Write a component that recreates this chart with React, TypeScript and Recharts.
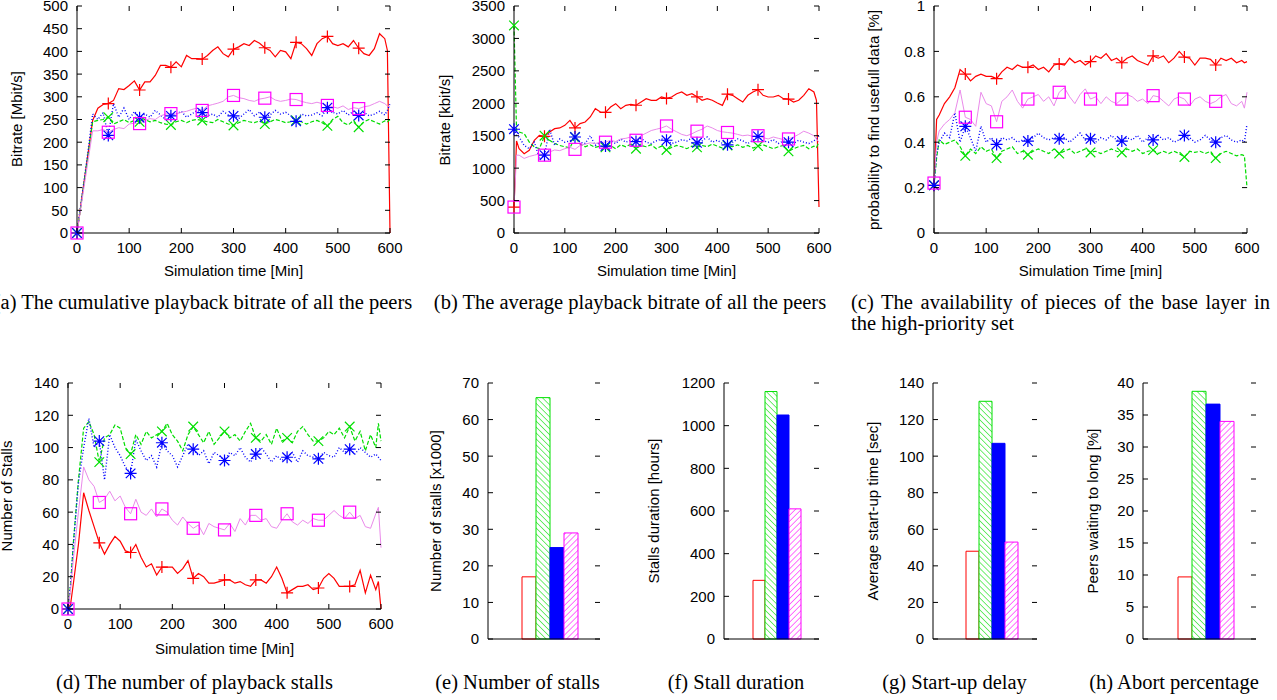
import { LineChart, Line, BarChart, Bar, XAxis, YAxis } from "recharts";

// sample times [min]
const TIMES = [
  0, 5, 10, 20, 30, 40, 50,
  60, 70, 80, 90, 100, 110,
  120, 130, 140, 150, 160, 170,
  180, 190, 200, 210, 220, 230,
  240, 250, 260, 270, 280, 290,
  300, 310, 320, 330, 340, 350,
  360, 370, 380, 390, 400, 410,
  420, 430, 440, 450, 460, 470,
  480, 490, 500, 510, 520, 530,
  540, 550, 560, 570, 580, 590,
  595, 600,
];
const X_TICKS = [0, 100, 200, 300, 400, 500, 600];

// (a) cumulative bitrate [Mbit/s]
const cumRed = [
  0, 41, 83, 165, 248, 275, 283,
  285, 292, 318, 316, 325, 335,
  315, 333, 333, 347, 369, 369,
  365, 377, 366, 391, 384, 384,
  383, 391, 402, 410, 395, 388,
  405, 410, 417, 413, 424, 418,
  408, 402, 388, 402, 399, 384,
  420, 417, 406, 391, 417, 428,
  433, 417, 413, 417, 410, 424,
  407, 395, 391, 406, 439, 428,
  402, 0,
];
const cumGreen = [
  0, 41, 82, 163, 245, 248, 250,
  255, 240, 245, 250, 243, 248,
  245, 250, 245, 248, 243, 240,
  238, 245, 248, 243, 248, 250,
  248, 245, 243, 250, 245, 240,
  237, 243, 248, 245, 243, 247,
  240, 245, 250, 247, 243, 245,
  248, 245, 240, 245, 248, 243,
  236, 250, 257, 243, 238, 248,
  233, 245, 250, 245, 240, 247,
  245, 250,
];
const cumBlue = [
  0, 43, 85, 170, 262, 250, 265,
  215, 285, 255, 275, 250, 268,
  254, 262, 255, 270, 260, 250,
  258, 262, 268, 255, 262, 270,
  265, 258, 262, 255, 268, 260,
  258, 252, 262, 272, 258, 266,
  255, 260, 270, 262, 266, 258,
  246, 262, 258, 260, 265, 258,
  276, 266, 262, 270, 260, 268,
  259, 266, 258, 262, 268, 260,
  270, 285,
];
const cumMagenta = [
  0, 38, 75, 150, 225, 225, 228,
  222, 228, 232, 230, 240, 242,
  241, 248, 252, 250, 258, 262,
  263, 262, 266, 268, 272, 275,
  270, 280, 283, 286, 290, 300,
  303, 298, 296, 292, 290, 295,
  297, 300, 293, 290, 292, 295,
  294, 290, 287, 285, 288, 285,
  281, 278, 275, 280, 272, 276,
  274, 278, 280, 285, 290, 285,
  280, 278,
];

// (b) average bitrate [kbit/s]
const avgRed = [
  400, 1420, 1300, 1223, 1275, 1429, 1506,
  1490, 1557, 1609, 1620, 1660, 1737,
  1620, 1686, 1711, 1789, 1917, 1866,
  1860, 1943, 1994, 1917, 1968, 1984,
  1970, 2020, 2071, 2046, 2046, 2097,
  2075, 2097, 2148, 2174, 2123, 2148,
  2100, 2046, 2071, 2046, 2004, 1968,
  2140, 2123, 2071, 2020, 2123, 2174,
  2210, 2123, 2097, 2097, 2123, 2071,
  2065, 2020, 2046, 2123, 2225, 2174,
  2046, 400,
];
const avgGreen = [
  3200, 1580, 1557, 1532, 1403, 1326, 1300,
  1500, 1429, 1380, 1350, 1330, 1310,
  1480, 1370, 1330, 1360, 1320, 1340,
  1320, 1350, 1300, 1360, 1330, 1370,
  1300, 1350, 1330, 1360, 1300, 1340,
  1280, 1320, 1350, 1330, 1300, 1340,
  1320, 1350, 1330, 1370, 1340, 1310,
  1350, 1330, 1360, 1320, 1350, 1310,
  1340, 1360, 1330, 1300, 1330, 1350,
  1260, 1300, 1330, 1350, 1300, 1340,
  1320, 1400,
];
const avgBlue = [
  1600, 1500, 1480, 1350, 1300, 1400, 1150,
  1200, 1600, 1350, 1450, 1400, 1420,
  1480, 1400, 1380, 1500, 1350, 1400,
  1340, 1420, 1380, 1450, 1400, 1430,
  1410, 1460, 1400, 1380, 1420, 1450,
  1430, 1380, 1400, 1440, 1420, 1460,
  1390, 1420, 1480, 1400, 1430, 1380,
  1360, 1400, 1450, 1420, 1380, 1430,
  1490, 1420, 1400, 1440, 1380, 1420,
  1400, 1380, 1430, 1400, 1380, 1420,
  1450, 1500,
];
const avgMagenta = [
  400, 1200, 1200, 1150, 1180, 1200, 1220,
  1200, 1250, 1280, 1270, 1300, 1320,
  1290, 1350, 1370, 1390, 1380, 1400,
  1400, 1430, 1410, 1450, 1460, 1480,
  1430, 1500, 1540, 1580, 1600, 1620,
  1650, 1600, 1560, 1520, 1500, 1530,
  1570, 1600, 1650, 1620, 1580, 1560,
  1550, 1540, 1520, 1500, 1510, 1490,
  1500, 1470, 1450, 1480, 1460, 1440,
  1450, 1480, 1520, 1570, 1540, 1500,
  1450, 1400,
];

// (c) probability to find useful data
const probRed = [
  0.21, 0.5, 0.52, 0.57, 0.6, 0.64, 0.72,
  0.7, 0.67, 0.69, 0.7, 0.69, 0.69,
  0.68, 0.71, 0.73, 0.72, 0.74, 0.73,
  0.73, 0.74, 0.72, 0.73, 0.71, 0.74,
  0.745, 0.74, 0.77, 0.75, 0.76, 0.74,
  0.755, 0.78, 0.77, 0.79, 0.76, 0.77,
  0.75, 0.77, 0.78, 0.76, 0.75, 0.74,
  0.78, 0.77, 0.78, 0.75, 0.77, 0.8,
  0.775, 0.77, 0.74, 0.77, 0.77, 0.765,
  0.74, 0.77, 0.76, 0.77, 0.75, 0.76,
  0.75, 0.755,
];
const probGreen = [
  0.21, 0.33, 0.41, 0.39, 0.4, 0.41, 0.38,
  0.34, 0.37, 0.35, 0.38, 0.36, 0.37,
  0.33, 0.36, 0.37, 0.38, 0.35, 0.36,
  0.345, 0.36, 0.37, 0.36, 0.35, 0.37,
  0.35, 0.36, 0.37, 0.35, 0.36, 0.37,
  0.355, 0.36, 0.35, 0.36, 0.37, 0.36,
  0.355, 0.37, 0.36, 0.37, 0.35, 0.36,
  0.365, 0.35, 0.36, 0.35, 0.36, 0.35,
  0.335, 0.36, 0.355, 0.36, 0.35, 0.36,
  0.33, 0.35, 0.36, 0.35, 0.34, 0.345,
  0.34, 0.2,
];
const probBlue = [
  0.21, 0.35, 0.4, 0.44, 0.42, 0.53, 0.4,
  0.47, 0.42, 0.36, 0.47, 0.4, 0.42,
  0.39, 0.42, 0.41, 0.42, 0.4, 0.41,
  0.405, 0.42, 0.44, 0.42, 0.41, 0.42,
  0.415, 0.42, 0.4, 0.42, 0.44, 0.41,
  0.415, 0.4, 0.42, 0.41, 0.43, 0.41,
  0.405, 0.42, 0.41, 0.43, 0.4, 0.42,
  0.41, 0.43, 0.41, 0.42, 0.4, 0.41,
  0.43, 0.42, 0.4, 0.41, 0.43, 0.41,
  0.4, 0.42, 0.43, 0.41, 0.4, 0.41,
  0.4, 0.48,
];
const probMagenta = [
  0.22, 0.4, 0.45, 0.48, 0.5, 0.53, 0.63,
  0.51, 0.5, 0.47, 0.62, 0.57, 0.56,
  0.49, 0.58, 0.6, 0.63, 0.58, 0.55,
  0.59, 0.6, 0.61, 0.58, 0.6, 0.56,
  0.62, 0.64, 0.6, 0.57, 0.61, 0.635,
  0.59, 0.6, 0.57, 0.6, 0.58, 0.57,
  0.59, 0.61, 0.6, 0.58, 0.59, 0.57,
  0.605, 0.6, 0.58, 0.56, 0.59, 0.6,
  0.59, 0.56, 0.59, 0.6, 0.58, 0.57,
  0.58, 0.6, 0.61, 0.57, 0.56, 0.58,
  0.55, 0.62,
];

// (d) number of stalls
const stallRed = [
  0, 3, 15, 40, 72, 61, 51,
  41, 34, 40, 45, 42, 36,
  35, 40, 32, 26, 28, 21,
  26, 26, 26, 22, 25, 30,
  19, 22, 20, 16, 16, 17,
  18, 18, 16, 17, 15, 14,
  18, 18, 16, 20, 26, 19,
  10, 12, 14, 14, 15, 12,
  13, 19, 22, 19, 14, 14,
  14, 15, 24, 10, 21, 12,
  17, 0,
];
const stallGreen = [
  0, 15, 40, 80, 112, 116, 108,
  91, 106, 108, 114, 112, 100,
  96, 108, 102, 110, 106, 108,
  110, 115, 108, 104, 98, 108,
  113, 108, 103, 110, 102, 106,
  110, 106, 108, 104, 110, 115,
  106, 104, 108, 102, 112, 104,
  106, 103, 110, 113, 108, 104,
  104, 106, 110, 108, 112, 106,
  113, 104, 110, 98, 108, 100,
  115, 104,
];
const stallBlue = [
  0, 15, 38, 78, 100, 118, 100,
  104, 80, 108, 100, 95, 88,
  84, 105, 98, 92, 95, 88,
  103, 98, 95, 88, 95, 102,
  99, 95, 98, 90, 97, 95,
  92, 97, 95, 100, 94, 91,
  96, 100, 96, 91, 95, 92,
  94, 97, 91, 98, 95, 94,
  93, 97, 95, 94, 100, 97,
  99, 96, 100, 97, 94, 96,
  94, 92,
];
const stallMagenta = [
  0, 12, 30, 60, 88, 80, 76,
  66, 68, 73, 67, 70, 63,
  59, 68, 60, 58, 62, 57,
  62, 60, 55, 52, 57, 53,
  50, 52, 46, 53, 51, 50,
  49, 53, 48, 56, 52, 58,
  58, 55, 56, 51, 50, 55,
  59, 54, 52, 55, 53, 56,
  55, 55, 58, 61, 58, 56,
  60, 56, 58, 51, 50, 59,
  63, 38,
];

// (e)-(h) totals, one value per scheme
const stallsTotal = [17, 66, 25, 29];
const stallHours = [275, 1160, 1050, 610];
const startupSec = [48, 130, 107, 53];
const abortPct = [9.7, 38.7, 36.7, 34];

const SERIES = [
  { key: "red", color: "#ff0000", dash: undefined, width: 1.2, marker: "plus" },
  { key: "green", color: "#00dd00", dash: "4 2", width: 1.2, marker: "cross" },
  { key: "blue", color: "#0000ff", dash: "1 2", width: 1.4, marker: "star" },
  { key: "magenta", color: "#ea8aea", dash: undefined, width: 1, marker: "square" },
];
const MARK_COLORS: Record<string, string> = {
  red: "#ff0000",
  green: "#00e000",
  blue: "#0000ff",
  magenta: "#ff00ff",
};

const ML = 60;
const MR = 30;
const MT = 10;
const MB = 40;
const SANS = "'Liberation Sans', Arial, sans-serif";
const SERIF = "'Liberation Serif', 'Times New Roman', serif";

function Marker({ kind, cx, cy, color }: { kind: string; cx: number; cy: number; color: string }) {
  const r = 6;
  const q = 4.8;
  const plus = `M${cx - r},${cy}H${cx + r}M${cx},${cy - r}V${cy + r}`;
  const cross = `M${cx - q},${cy - q}L${cx + q},${cy + q}M${cx - q},${cy + q}L${cx + q},${cy - q}`;
  if (kind === "square")
    return <rect x={cx - r} y={cy - r} width={2 * r} height={2 * r} fill="none" stroke={color} strokeWidth={1.2} />;
  const d = kind === "plus" ? plus : kind === "cross" ? cross : plus + cross;
  return <path d={d} fill="none" stroke={color} strokeWidth={1.2} />;
}

const dotFor = (kind: string, color: string) => (p: any) => {
  const t = p.payload.t;
  const show = t % 60 === 0 && t < 600 && p.cx != null && p.cy != null;
  return (
    <g key={`dot-${kind}-${p.index}`}>
      {show ? <Marker kind={kind} cx={p.cx} cy={p.cy} color={color} /> : null}
    </g>
  );
};

// gnuplot style: inward ticks on both sides
const yTick = (w: number) => (p: any) => {
  const y = p.y;
  return (
    <g>
      <line x1={ML} x2={ML + 5} y1={y} y2={y} stroke="#000" />
      <line x1={ML + w - 5} x2={ML + w} y1={y} y2={y} stroke="#000" />
      <text x={ML - 9} y={y} dy="0.36em" textAnchor="end" fontFamily={SANS} fontSize={15} fill="#000">
        {p.payload.value}
      </text>
    </g>
  );
};

const xTick = (h: number) => (p: any) => {
  const x = p.x;
  return (
    <g>
      <line x1={x} x2={x} y1={MT + h - 5} y2={MT + h} stroke="#000" />
      <line x1={x} x2={x} y1={MT} y2={MT + 5} stroke="#000" />
      <text x={x} y={MT + h + 15} dy="0.36em" textAnchor="middle" fontFamily={SANS} fontSize={15} fill="#000">
        {p.payload.value}
      </text>
    </g>
  );
};

type LinePanelProps = {
  left: number;
  top: number;
  w: number;
  h: number;
  yMax: number;
  yTicks: number[];
  lines: number[][];
};

function LinePanel({ left, top, w, h, yMax, yTicks, lines }: LinePanelProps) {
  const data = TIMES.map((t, i) => ({
    t,
    red: lines[0][i],
    green: lines[1][i],
    blue: lines[2][i],
    magenta: lines[3][i],
  }));
  return (
    <div style={{ position: "absolute", left: left - ML, top: top - MT }}>
      <LineChart width={ML + w + MR} height={MT + h + MB} data={data} margin={{ top: MT, right: MR, bottom: 0, left: 0 }}>
        <XAxis
          dataKey="t"
          type="number"
          domain={[0, 600]}
          ticks={X_TICKS}
          interval={0}
          height={MB}
          tickLine={false}
          axisLine={{ stroke: "#000" }}
          tick={xTick(h)}
        />
        <XAxis xAxisId="top" orientation="top" dataKey="t" type="number" domain={[0, 600]} height={0} tick={false} tickLine={false} axisLine={{ stroke: "#000" }} />
        <YAxis type="number" domain={[0, yMax]} ticks={yTicks} interval={0} width={ML} tickLine={false} axisLine={{ stroke: "#000" }} tick={yTick(w)} />
        <YAxis yAxisId="right" orientation="right" type="number" domain={[0, yMax]} width={0} tick={false} tickLine={false} axisLine={{ stroke: "#000" }} />
        {SERIES.map((s) => (
          <Line
            key={s.key}
            dataKey={s.key}
            type="linear"
            stroke={s.color}
            strokeWidth={s.width}
            strokeDasharray={s.dash}
            dot={dotFor(s.marker, MARK_COLORS[s.key])}
            activeDot={false}
            isAnimationActive={false}
          />
        ))}
      </LineChart>
    </div>
  );
}

type BarPanelProps = {
  id: string;
  left: number;
  top: number;
  w: number;
  h: number;
  yMax: number;
  yTicks: number[];
  values: number[];
  padL: number;
  padR: number;
};

function BarPanel({ id, left, top, w, h, yMax, yTicks, values, padL, padR }: BarPanelProps) {
  const row: Record<string, number | string> = { name: id };
  SERIES.forEach((s, i) => (row[s.key] = values[i]));
  const fills: Record<string, string> = {
    red: "#ffffff",
    green: `url(#${id}-hg)`,
    blue: "#0000ff",
    magenta: `url(#${id}-hm)`,
  };
  return (
    <div style={{ position: "absolute", left: left - ML, top: top - MT }}>
      <BarChart
        width={ML + w + MR}
        height={MT + h + 10}
        data={[row]}
        margin={{ top: MT, right: MR, bottom: 0, left: 0 }}
        barGap={0}
        barCategoryGap={0}
      >
        <defs>
          <pattern id={`${id}-hg`} patternUnits="userSpaceOnUse" width={4.2} height={4.2} patternTransform="rotate(-45)">
            <rect width={4.2} height={4.2} fill="#fff" />
            <line x1={0} y1={0} x2={0} y2={4.2} stroke="#00e000" strokeWidth={1.1} />
          </pattern>
          <pattern id={`${id}-hm`} patternUnits="userSpaceOnUse" width={4.2} height={4.2} patternTransform="rotate(45)">
            <rect width={4.2} height={4.2} fill="#fff" />
            <line x1={0} y1={0} x2={0} y2={4.2} stroke="#ff00ff" strokeWidth={1.1} />
          </pattern>
        </defs>
        <XAxis dataKey="name" height={10} tick={false} tickLine={false} axisLine={{ stroke: "#000" }} padding={{ left: padL, right: padR }} />
        <XAxis xAxisId="top" orientation="top" dataKey="name" height={0} tick={false} tickLine={false} axisLine={{ stroke: "#000" }} />
        <YAxis type="number" domain={[0, yMax]} ticks={yTicks} interval={0} width={ML} tickLine={false} axisLine={{ stroke: "#000" }} tick={yTick(w)} />
        <YAxis yAxisId="right" orientation="right" type="number" domain={[0, yMax]} width={0} tick={false} tickLine={false} axisLine={{ stroke: "#000" }} />
        {SERIES.map((s) => (
          <Bar key={s.key} dataKey={s.key} fill={fills[s.key]} stroke={MARK_COLORS[s.key]} strokeWidth={1} isAnimationActive={false} />
        ))}
      </BarChart>
    </div>
  );
}

function YTitle({ x, y, text }: { x: number; y: number; text: string }) {
  return (
    <div
      style={{
        position: "absolute",
        left: x,
        top: y,
        transform: "translate(-50%, -50%) rotate(-90deg)",
        whiteSpace: "nowrap",
        fontFamily: SANS,
        fontSize: 15,
        lineHeight: 1,
      }}
    >
      {text}
    </div>
  );
}

function XTitle({ x, y, text }: { x: number; y: number; text: string }) {
  return (
    <div
      style={{
        position: "absolute",
        left: x,
        top: y,
        transform: "translate(-50%, -50%)",
        whiteSpace: "nowrap",
        fontFamily: SANS,
        fontSize: 15,
        lineHeight: 1,
      }}
    >
      {text}
    </div>
  );
}

function Caption({ x, base, text }: { x: number; base: number; text: string }) {
  return (
    <div
      style={{
        position: "absolute",
        left: x,
        top: base - 17,
        transform: "translateX(-50%)",
        whiteSpace: "nowrap",
        fontFamily: SERIF,
        fontSize: 20.5,
        lineHeight: 1,
      }}
    >
      {text}
    </div>
  );
}

export default function App() {
  return (
    <div
      style={{
        position: "absolute",
        left: 0,
        top: 0,
        width: 1277,
        height: 700,
        background: "#fff",
        overflow: "hidden",
        color: "#000",
      }}
    >
      <LinePanel left={77} top={6} w={313} h={227} yMax={500} yTicks={[0, 50, 100, 150, 200, 250, 300, 350, 400, 450, 500]} lines={[cumRed, cumGreen, cumBlue, cumMagenta]} />
      <LinePanel left={514} top={6} w={305} h={227} yMax={3500} yTicks={[0, 500, 1000, 1500, 2000, 2500, 3000, 3500]} lines={[avgRed, avgGreen, avgBlue, avgMagenta]} />
      <LinePanel left={934} top={6} w={313} h={227} yMax={1} yTicks={[0, 0.2, 0.4, 0.6, 0.8, 1]} lines={[probRed, probGreen, probBlue, probMagenta]} />
      <LinePanel left={68} top={383} w={313} h={226} yMax={140} yTicks={[0, 20, 40, 60, 80, 100, 120, 140]} lines={[stallRed, stallGreen, stallBlue, stallMagenta]} />

      <BarPanel id="e" left={488} top={383} w={112} h={256} yMax={70} yTicks={[0, 10, 20, 30, 40, 50, 60, 70]} values={stallsTotal} padL={34} padR={21} />
      <BarPanel id="f" left={724} top={383} w={95} h={256} yMax={1200} yTicks={[0, 200, 400, 600, 800, 1000, 1200]} values={stallHours} padL={29} padR={18} />
      <BarPanel id="g" left={933} top={383} w={104} h={256} yMax={140} yTicks={[0, 20, 40, 60, 80, 100, 120, 140]} values={startupSec} padL={33} padR={18} />
      <BarPanel id="h" left={1143} top={383} w={113} h={256} yMax={40} yTicks={[0, 5, 10, 15, 20, 25, 30, 35, 40]} values={abortPct} padL={35} padR={21} />

      <YTitle x={16} y={119} text="Bitrate [Mbit/s]" />
      <YTitle x={444} y={120} text="Bitrate [kbit/s]" />
      <YTitle x={873} y={120} text="probability to find usefull data [%]" />
      <YTitle x={6} y={496} text="Number of Stalls" />
      <YTitle x={435} y={511} text="Number of stalls [x1000]" />
      <YTitle x={653} y={511} text="Stalls duration [hours]" />
      <YTitle x={872} y={511} text="Average start-up time [sec]" />
      <YTitle x={1092} y={511} text="Peers waiting to long [%]" />

      <XTitle x={233.5} y={270} text="Simulation time [Min]" />
      <XTitle x={666.5} y={270} text="Simulation time [Min]" />
      <XTitle x={1090.5} y={270} text="Simulation Time [min]" />
      <XTitle x={224.5} y={648} text="Simulation time [Min]" />

      <Caption x={203} base={309} text="(a) The cumulative playback bitrate of all the peers" />
      <Caption x={630} base={309} text="(b) The average playback bitrate of all the peers" />
      <div
        style={{
          position: "absolute",
          left: 851,
          top: 292,
          width: 419,
          fontFamily: SERIF,
          fontSize: 20.5,
          lineHeight: "21px",
          textAlign: "justify",
          textAlignLast: "justify",
          whiteSpace: "nowrap",
        }}
      >
        (c) The availability of pieces of the base layer in
      </div>
      <div style={{ position: "absolute", left: 851, top: 313, fontFamily: SERIF, fontSize: 20.5, lineHeight: "21px", whiteSpace: "nowrap" }}>
        the high-priority set
      </div>
      <Caption x={194.5} base={689} text="(d) The number of playback stalls" />
      <Caption x={517.5} base={689} text="(e) Number of stalls" />
      <Caption x={736} base={689} text="(f) Stall duration" />
      <Caption x={954.5} base={689} text="(g) Start-up delay" />
      <Caption x={1174} base={689} text="(h) Abort percentage" />
    </div>
  );
}
